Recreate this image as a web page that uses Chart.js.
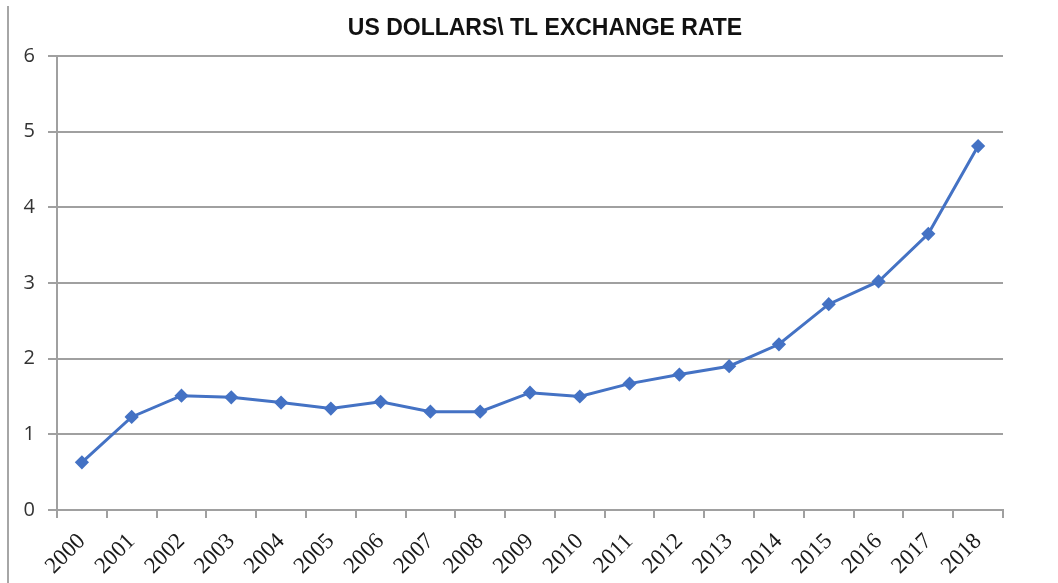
<!DOCTYPE html>
<html lang="en">
<head>
  <meta charset="UTF-8" />
  <title>US Dollars \ TL Exchange Rate</title>
  <script src="https://cdn.jsdelivr.net/npm/chart.js@4.4.1/dist/chart.umd.min.js"></script>
  <style>
    html, body { margin: 0; padding: 0; background: #fff; }
    .wrap { position: relative; width: 1058px; height: 583px; }
    .edge { position: absolute; left: 7px; top: 6px; bottom: 0; width: 2px; background: #a6a6a6; }
  </style>
</head>
<body>
  <div class="wrap">
    <div class="edge"></div>
    <canvas id="chart" width="1058" height="583"></canvas>
  </div>

  <script>
    const years = ['2000', '2001', '2002', '2003', '2004', '2005', '2006', '2007', '2008', '2009',
      '2010', '2011', '2012', '2013', '2014', '2015', '2016', '2017', '2018'];
    const rates = [0.63, 1.23, 1.51, 1.49, 1.42, 1.34, 1.43, 1.30, 1.30, 1.55,
      1.50, 1.67, 1.79, 1.90, 2.19, 2.72, 3.02, 3.65, 4.81];
    const yTicks = [0, 1, 2, 3, 4, 5, 6];
    const chartTitle = 'US DOLLARS\\ TL EXCHANGE RATE';

    const blue = '#4472c4';
    const gridGray = '#a0a0a0';

    // title sits a bit right of the plot centre in the original, so draw it by hand
    const titlePlugin = {
      id: 'offsetTitle',
      afterDraw(chart) {
        const ctx = chart.ctx;
        ctx.save();
        ctx.font = "bold 23px 'Liberation Sans', Arial, sans-serif";
        ctx.fillStyle = '#111';
        ctx.textAlign = 'center';
        ctx.textBaseline = 'middle';
        ctx.fillText(chartTitle, 545, 29);
        ctx.restore();
      }
    };

    new Chart(document.getElementById('chart'), {
      type: 'line',
      data: {
        labels: years,
        datasets: [{
          label: 'USD / TL',
          data: rates,
          borderColor: blue,
          backgroundColor: blue,
          borderWidth: 3,
          pointStyle: 'rectRot',
          pointRadius: 5,
          pointHoverRadius: 5,
          tension: 0
        }]
      },
      plugins: [titlePlugin],
      options: {
        responsive: false,
        animation: false,
        layout: { padding: { left: 0, right: 55, top: 56, bottom: 0 } },
        plugins: {
          legend: { display: false },
          tooltip: { enabled: false },
          title: { display: false }
        },
        scales: {
          x: {
            offset: true,
            grid: { offset: true, drawOnChartArea: false, color: gridGray, lineWidth: 2, tickLength: 8 },
            border: { color: gridGray, width: 2 },
            ticks: {
              minRotation: 45,
              maxRotation: 45,
              autoSkip: false,
              color: '#1a1a1a',
              padding: 10,
              font: { family: "'Liberation Serif', 'Times New Roman', serif", size: 23 }
            },
            afterFit: (scale) => { scale.height = 73; }
          },
          y: {
            min: 0,
            max: 6,
            afterBuildTicks: (scale) => { scale.ticks = yTicks.map(v => ({ value: v })); },
            grid: { color: gridGray, lineWidth: 2, tickLength: 9 },
            border: { color: gridGray, width: 2 },
            ticks: {
              color: '#333',
              padding: 13,
              font: { family: "'Open Sans', sans-serif", size: 20 }
            },
            afterFit: (scale) => { scale.width = 57; }
          }
        }
      }
    });
  </script>
</body>
</html>
